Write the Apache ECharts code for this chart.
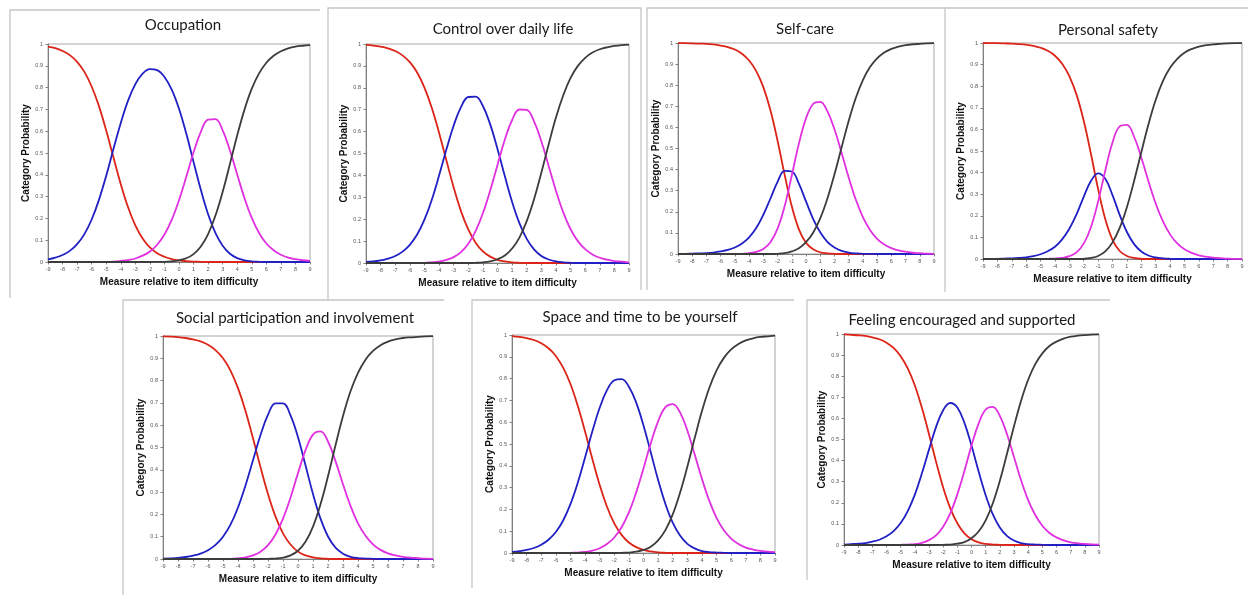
<!DOCTYPE html>
<html><head><meta charset="utf-8">
<script src="https://cdn.jsdelivr.net/npm/echarts@6/dist/echarts.min.js"></script>
<style>html,body{margin:0;padding:0;background:#fff}#c{width:1248px;height:595px}</style>
</head><body><div id="c"></div>
<script>
// Shared x values (measure relative to item difficulty)
const measure = [-9,-8.5,-8,-7.5,-7,-6.5,-6,-5.5,-5,-4.5,-4,-3.5,-3,-2.5,-2,-1.5,-1,-0.5,0,0.5,1,1.5,2,2.5,3,3.5,4,4.5,5,5.5,6,6.5,7,7.5,8,8.5,9];
const xTicks = [-9,-8,-7,-6,-5,-4,-3,-2,-1,0,1,2,3,4,5,6,7,8,9];
const yTicks = [0,0.1,0.2,0.3,0.4,0.5,0.6,0.7,0.8,0.9,1];

// Occupation
const occ0 = [0.988,0.981,0.968,0.949,0.918,0.872,0.805,0.715,0.603,0.479,0.357,0.251,0.168,0.108,0.067,0.040,0.024,0.013,0.007,0.004,0.002,0.001,0,0,0,0,0,0,0,0,0,0,0,0,0,0,0];
const occ1 = [0.012,0.020,0.032,0.051,0.082,0.128,0.195,0.285,0.396,0.519,0.638,0.740,0.816,0.864,0.885,0.880,0.849,0.791,0.703,0.589,0.459,0.331,0.219,0.134,0.075,0.038,0.018,0.008,0.003,0.001,0,0,0,0,0,0,0];
const occ2 = [0,0,0,0,0,0,0,0.001,0.001,0.002,0.005,0.009,0.016,0.029,0.048,0.079,0.126,0.193,0.283,0.391,0.503,0.597,0.653,0.655,0.604,0.512,0.401,0.293,0.202,0.133,0.085,0.054,0.033,0.020,0.013,0.008,0.005];
const occ3 = [0,0,0,0,0,0,0,0,0,0,0,0,0,0,0,0.001,0.001,0.003,0.008,0.017,0.036,0.071,0.128,0.212,0.322,0.450,0.581,0.699,0.795,0.865,0.914,0.946,0.967,0.980,0.988,0.992,0.995];

// Control over daily life
const ctl0 = [0.996,0.993,0.988,0.980,0.968,0.948,0.917,0.870,0.801,0.709,0.595,0.469,0.345,0.237,0.153,0.093,0.053,0.029,0.014,0.007,0.003,0.001,0,0,0,0,0,0,0,0,0,0,0,0,0,0,0];
const ctl1 = [0.005,0.007,0.012,0.020,0.032,0.052,0.083,0.130,0.198,0.288,0.399,0.518,0.628,0.712,0.758,0.760,0.717,0.633,0.521,0.397,0.279,0.182,0.110,0.062,0.032,0.016,0.007,0.003,0.001,0,0,0,0,0,0,0,0];
const ctl2 = [0,0,0,0,0,0,0,0.001,0.001,0.003,0.006,0.014,0.027,0.050,0.088,0.146,0.227,0.331,0.448,0.563,0.653,0.701,0.699,0.647,0.556,0.443,0.330,0.231,0.154,0.100,0.063,0.039,0.024,0.015,0.009,0.006,0.003];
const ctl3 = [0,0,0,0,0,0,0,0,0,0,0,0,0,0,0,0.001,0.003,0.007,0.017,0.034,0.066,0.116,0.191,0.291,0.412,0.541,0.664,0.766,0.845,0.900,0.937,0.961,0.976,0.985,0.991,0.995,0.997];

// Self-care
const sc0 = [0.999,0.999,0.998,0.997,0.996,0.993,0.988,0.981,0.969,0.949,0.917,0.867,0.791,0.681,0.537,0.375,0.226,0.117,0.053,0.022,0.008,0.003,0.001,0,0,0,0,0,0,0,0,0,0,0,0,0,0];
const sc1 = [0.001,0.001,0.002,0.003,0.004,0.007,0.012,0.019,0.031,0.050,0.079,0.123,0.186,0.263,0.342,0.394,0.391,0.333,0.249,0.167,0.103,0.058,0.031,0.015,0.007,0.003,0.001,0.001,0,0,0,0,0,0,0,0,0];
const sc2 = [0,0,0,0,0,0,0,0,0.001,0.001,0.004,0.010,0.024,0.056,0.120,0.227,0.372,0.523,0.643,0.711,0.721,0.677,0.591,0.480,0.363,0.258,0.175,0.114,0.072,0.045,0.028,0.017,0.011,0.006,0.004,0.002,0.001];
const sc3 = [0,0,0,0,0,0,0,0,0,0,0,0,0,0,0.001,0.004,0.012,0.027,0.056,0.101,0.169,0.262,0.377,0.505,0.630,0.739,0.824,0.886,0.927,0.955,0.972,0.983,0.990,0.994,0.996,0.998,0.999];

// Personal safety
const ps0 = [1.000,0.999,0.999,0.998,0.997,0.995,0.992,0.987,0.978,0.964,0.941,0.904,0.847,0.761,0.640,0.487,0.324,0.184,0.089,0.037,0.014,0.005,0.001,0,0,0,0,0,0,0,0,0,0,0,0,0,0];
const ps1 = [0,0.001,0.001,0.002,0.003,0.005,0.008,0.013,0.022,0.036,0.057,0.091,0.140,0.207,0.288,0.361,0.396,0.371,0.296,0.204,0.125,0.069,0.035,0.016,0.007,0.003,0.001,0,0,0,0,0,0,0,0,0,0];
const ps2 = [0,0,0,0,0,0,0,0,0,0.001,0.002,0.005,0.013,0.031,0.071,0.147,0.266,0.410,0.539,0.614,0.621,0.566,0.470,0.360,0.257,0.175,0.114,0.072,0.045,0.028,0.017,0.011,0.006,0.004,0.002,0.001,0.001];
const ps3 = [0,0,0,0,0,0,0,0,0,0,0,0,0,0,0.001,0.005,0.014,0.035,0.077,0.144,0.240,0.361,0.494,0.624,0.736,0.823,0.885,0.927,0.955,0.972,0.983,0.990,0.994,0.996,0.998,0.999,0.999];

// Social participation and involvement
const sp0 = [0.998,0.997,0.995,0.991,0.985,0.976,0.961,0.937,0.900,0.845,0.766,0.664,0.541,0.412,0.291,0.190,0.115,0.065,0.033,0.016,0.007,0.003,0.001,0,0,0,0,0,0,0,0,0,0,0,0,0,0];
const sp1 = [0.002,0.003,0.005,0.009,0.015,0.024,0.039,0.063,0.100,0.154,0.231,0.330,0.443,0.556,0.647,0.698,0.698,0.644,0.546,0.420,0.291,0.181,0.101,0.051,0.024,0.010,0.004,0.002,0.001,0,0,0,0,0,0,0,0];
const sp2 = [0,0,0,0,0,0,0,0,0.001,0.001,0.003,0.007,0.016,0.032,0.062,0.110,0.181,0.275,0.385,0.488,0.558,0.572,0.527,0.439,0.335,0.238,0.160,0.104,0.066,0.041,0.025,0.016,0.010,0.006,0.004,0.002,0.001];
const sp3 = [0,0,0,0,0,0,0,0,0,0,0,0,0,0,0.001,0.002,0.006,0.016,0.037,0.077,0.145,0.245,0.371,0.510,0.641,0.752,0.835,0.894,0.933,0.959,0.975,0.985,0.991,0.994,0.996,0.998,0.999];

// Space and time to be yourself
const st0 = [0.995,0.991,0.986,0.977,0.962,0.939,0.904,0.850,0.775,0.675,0.557,0.431,0.312,0.212,0.136,0.083,0.048,0.027,0.014,0.007,0.003,0.001,0,0,0,0,0,0,0,0,0,0,0,0,0,0,0];
const st1 = [0.005,0.009,0.014,0.023,0.038,0.061,0.096,0.149,0.224,0.322,0.438,0.558,0.666,0.747,0.792,0.798,0.763,0.690,0.585,0.461,0.335,0.225,0.139,0.080,0.042,0.021,0.009,0.004,0.002,0.001,0,0,0,0,0,0,0];
const st2 = [0,0,0,0,0,0,0,0,0.001,0.002,0.005,0.011,0.022,0.041,0.071,0.118,0.186,0.278,0.388,0.504,0.604,0.669,0.683,0.645,0.562,0.453,0.340,0.240,0.161,0.104,0.066,0.041,0.025,0.016,0.010,0.006,0.004];
const st3 = [0,0,0,0,0,0,0,0,0,0,0,0,0,0,0,0.001,0.002,0.006,0.014,0.029,0.058,0.105,0.177,0.276,0.396,0.526,0.651,0.757,0.838,0.895,0.934,0.959,0.975,0.985,0.991,0.994,0.997];

// Feeling encouraged and supported
const fe0 = [0.998,0.996,0.994,0.991,0.984,0.975,0.959,0.934,0.895,0.837,0.756,0.650,0.525,0.394,0.273,0.175,0.103,0.055,0.027,0.012,0.005,0.002,0.001,0,0,0,0,0,0,0,0,0,0,0,0,0,0];
const fe1 = [0.002,0.004,0.006,0.009,0.016,0.025,0.041,0.066,0.104,0.161,0.239,0.340,0.452,0.560,0.639,0.673,0.652,0.579,0.471,0.349,0.236,0.146,0.083,0.043,0.021,0.009,0.004,0.002,0.001,0,0,0,0,0,0,0,0];
const fe2 = [0,0,0,0,0,0,0,0,0.001,0.002,0.004,0.010,0.023,0.046,0.087,0.150,0.240,0.351,0.471,0.575,0.642,0.655,0.612,0.526,0.417,0.307,0.213,0.142,0.091,0.057,0.036,0.022,0.013,0.008,0.005,0.003,0.002];
const fe3 = [0,0,0,0,0,0,0,0,0,0,0,0,0,0,0.001,0.002,0.006,0.014,0.032,0.064,0.117,0.197,0.304,0.431,0.563,0.684,0.783,0.857,0.908,0.943,0.964,0.978,0.987,0.992,0.995,0.997,0.998];

const panelTitles = ['Occupation','Control over daily life','Self-care','Personal safety','Social participation and involvement','Space and time to be yourself','Feeling encouraged and supported'];
const yAxisTitle = 'Category Probability';
const xAxisTitle = 'Measure relative to item difficulty';

const panelData = [[occ0,occ1,occ2,occ3],[ctl0,ctl1,ctl2,ctl3],[sc0,sc1,sc2,sc3],[ps0,ps1,ps2,ps3],[sp0,sp1,sp2,sp3],[st0,st1,st2,st3],[fe0,fe1,fe2,fe3]];

// layout (pixels)
const layout = [
  {grid:{left:48,top:44,width:262,height:218}, title:[183,25]},
  {grid:{left:366,top:44,width:263,height:219}, title:[503,29]},
  {grid:{left:678,top:43,width:256,height:211}, title:[805,29]},
  {grid:{left:983,top:43,width:259,height:216}, title:[1108,30]},
  {grid:{left:163,top:336,width:270,height:223}, title:[295,318]},
  {grid:{left:512,top:335,width:263,height:218}, title:[640,317]},
  {grid:{left:844,top:334,width:255,height:211}, title:[962,320]}
];
const frames = [
  [[10,298],[10,10],[320,10]],
  [[328,300],[328,8],[641,8],[641,290]],
  [[647,290],[647,8],[945,8]],
  [[945,292],[945,8],[1248,8]],
  [[123,595],[123,300],[444,300]],
  [[472,588],[472,300],[794,300]],
  [[807,580],[807,300],[1110,300]]
];
const colors = ['#dc2418','#2020c4','#e030e0','#3c3c3c'];

const grids = [], xAxes = [], yAxes = [], series = [], graphics = [];
panelData.forEach((cats, gi) => {
  const L = layout[gi];
  grids.push(Object.assign({show:true, borderColor:'#a8a8a8', borderWidth:1, backgroundColor:'#fff'}, L.grid));
  xAxes.push({gridIndex:gi, type:'value', min:-9, max:9, interval:1,
    name:xAxisTitle, nameLocation:'middle', nameGap:15,
    nameTextStyle:{fontFamily:'Liberation Sans, Arial', fontWeight:'bold', fontSize:10, color:'#111'},
    axisLine:{show:true, onZero:false, lineStyle:{color:'#808080', width:1}},
    axisTick:{show:true, length:2.5, lineStyle:{color:'#808080'}},
    axisLabel:{fontSize:5.5, color:'#555', margin:4, fontFamily:'Liberation Sans, Arial',
      formatter:v => xTicks.includes(v) ? String(v) : ''},
    splitLine:{show:false}});
  yAxes.push({gridIndex:gi, type:'value', min:0, max:1, interval:0.1,
    name:yAxisTitle, nameLocation:'middle', nameGap:16,
    nameTextStyle:{fontFamily:'Liberation Sans, Arial', fontWeight:'bold', fontSize:10, color:'#111'},
    axisLine:{show:true, onZero:false, lineStyle:{color:'#808080', width:1}},
    axisTick:{show:true, length:2.5, lineStyle:{color:'#808080'}},
    axisLabel:{fontSize:5.5, color:'#555', margin:5, fontFamily:'Liberation Sans, Arial',
      formatter:v => { const t = yTicks.find(y => Math.abs(y - v) < 1e-6); return t === undefined ? '' : String(t); }},
    splitLine:{show:false}});
  cats.forEach((arr, k) => {
    series.push({type:'line', xAxisIndex:gi, yAxisIndex:gi, smooth:0.4, showSymbol:false, clip:false,
      data: measure.map((x, i) => [x, arr[i]]),
      lineStyle:{color:colors[k], width:1.8}, itemStyle:{color:colors[k]}, z:2+k});
  });
  graphics.push({type:'text', x:L.title[0], y:L.title[1], style:{text:panelTitles[gi], fontFamily:'Lato', fontSize:15, fill:'#1a1a1a', textAlign:'center', textVerticalAlign:'middle'}});
});
frames.forEach(pts => graphics.push({type:'polyline', shape:{points:pts}, style:{stroke:'#c6c6c6', lineWidth:1.3, fill:null}, z:-1}));

const chart = echarts.init(document.getElementById('c'), null, {renderer:'canvas'});
chart.setOption({animation:false, backgroundColor:'#fff', grid:grids, xAxis:xAxes, yAxis:yAxes, series:series, graphic:graphics});
</script></body></html>
